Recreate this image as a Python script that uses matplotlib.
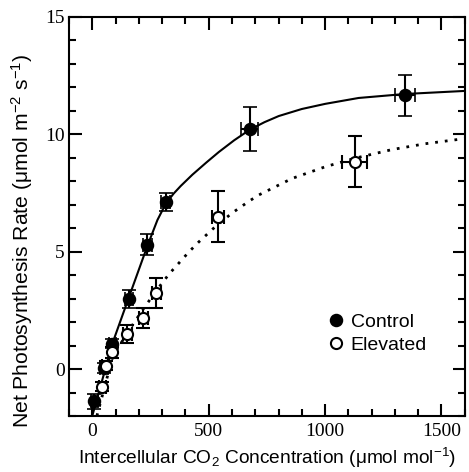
import numpy as np
import matplotlib
matplotlib.use("Agg")
import matplotlib.pyplot as plt
from matplotlib.ticker import MultipleLocator

# measured points (Ci in umol/mol, A in umol m-2 s-1)
ctrl_x = [9, 51, 87, 158, 237, 315, 677, 1344]
ctrl_y = [-1.38, 0.05, 1.08, 2.99, 5.3, 7.12, 10.22, 11.66]
ctrl_xerr = [16, 16, 16, 18, 18, 18, 36, 43]
ctrl_yerr = [0.3, 0.2, 0.2, 0.4, 0.44, 0.37, 0.94, 0.86]

elev_x = [44, 59, 87, 151, 220, 276, 541, 1127]
elev_y = [-0.75, 0.14, 0.71, 1.5, 2.19, 3.23, 6.5, 8.84]
elev_xerr = [15, 15, 15, 18, 18, 20, 25, 55]
elev_yerr = [0.2, 0.2, 0.25, 0.37, 0.42, 0.63, 1.08, 1.1]

# fitted response curves
ctrl_fit_x = [0, 87, 159, 237, 280, 316, 350, 380, 430, 490, 544, 610, 677,
              740, 801, 900, 1001, 1144, 1344, 1600]
ctrl_fit_y = [-2.0, 1.1, 3.1, 5.25, 6.35, 7.05, 7.48, 7.8, 8.28, 8.8, 9.25, 9.75, 10.2,
              10.52, 10.78, 11.08, 11.3, 11.55, 11.72, 11.85]

elev_fit_x = [20, 87, 151, 215, 276, 330, 416, 458, 530, 601, 673, 716, 858, 1001, 1127, 1287, 1430, 1600]
elev_fit_y = [-2.0, 0.5, 1.55, 2.5, 3.35, 4.05, 5.0, 5.42, 6.08, 6.65, 7.15, 7.42, 8.12, 8.62, 8.98, 9.35, 9.6, 9.82]

plt.rcParams['font.family'] = ['Liberation Sans', 'DejaVu Sans']
plt.rcParams['mathtext.default'] = 'regular'

fig = plt.figure(figsize=(4.69, 4.72), dpi=100)
ax = fig.add_axes([0.147, 0.1186, 0.844, 0.8454])

ax.plot(ctrl_fit_x, ctrl_fit_y, color='black', lw=1.5, zorder=2)
ax.plot(elev_fit_x, elev_fit_y, color='black', lw=2, linestyle=(0, (1, 2.5)), zorder=2)

ax.errorbar(ctrl_x, ctrl_y, xerr=ctrl_xerr, yerr=ctrl_yerr, fmt='o', ms=8.5,
            mfc='black', mec='black', mew=1.2, ecolor='black', elinewidth=1.5,
            capsize=5, capthick=1.5, label='Control', zorder=3)
ax.errorbar(elev_x, elev_y, xerr=elev_xerr, yerr=elev_yerr, fmt='o', ms=8,
            mfc='white', mec='black', mew=1.5, ecolor='black', elinewidth=1.5,
            capsize=5, capthick=1.5, label='Elevated', zorder=3)

ax.set_xlim(-100, 1600)
ax.set_ylim(-2, 15)
ax.xaxis.set_major_locator(MultipleLocator(500))
ax.xaxis.set_minor_locator(MultipleLocator(100))
ax.yaxis.set_major_locator(MultipleLocator(5))
ax.yaxis.set_minor_locator(MultipleLocator(1))
ax.tick_params(which='both', direction='in', top=True, right=True, width=1.5)
ax.tick_params(which='major', length=9)
ax.tick_params(which='minor', length=5)
ax.tick_params(axis='x', pad=5)
ax.tick_params(axis='y', pad=3)
for lab in ax.get_xticklabels() + ax.get_yticklabels():
    lab.set_fontfamily('Liberation Serif')
    lab.set_fontsize(14)
for sp in ax.spines.values():
    sp.set_linewidth(1.5)

ax.set_xlabel(r'Intercellular CO$_2$ Concentration (μmol mol$^{-1}$)', fontsize=13.8)
ax.set_ylabel(r'Net Photosynthesis Rate (μmol m$^{-2}$ s$^{-1}$)', fontsize=15.2)
ax.yaxis.set_label_coords(-0.086, 0.44)

handles, labels = ax.get_legend_handles_labels()
handles = [h[0] for h in handles]
ax.legend(handles, labels, loc='upper left', bbox_to_anchor=(0.655, 0.258),
          frameon=False, fontsize=14, handlelength=0.8, handletextpad=0.35,
          labelspacing=0.3, borderpad=0, borderaxespad=0)

fig.savefig('out.png', dpi=100)
